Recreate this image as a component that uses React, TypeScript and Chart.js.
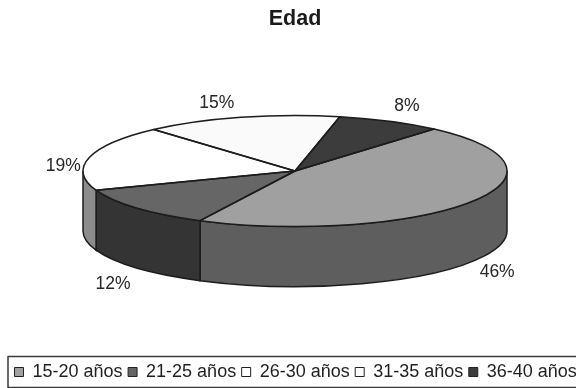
import { useEffect, useRef } from "react";
import { Chart, registerables } from "chart.js";

Chart.register(...registerables);

const ageGroups = ["15-20 años", "21-25 años", "26-30 años", "31-35 años", "36-40 años"];
const shares = [46, 12, 19, 15, 8];
const faceColors = ["#a0a0a0", "#666666", "#ffffff", "#fafafa", "#3c3c3c"];
const wallColors = ["#5e5e5e", "#343434", "#8c8c8c", "#8c8c8c", "#262626"];
const labelNudges = [
  [26, 10],
  [-24, 16],
  [-26, 9],
  [-24, -14],
  [17, -15],
];

const INK = "#1c1c1c";
const CENTER = { x: 295, y: 171 };
const SQUASH = 0.262;
const DEPTH = 60;

// Lays the flat pie down as a tilted disc: walls first, then the squashed
// faces from the library, then outlines, percentage labels and the legend frame.
const tiltedPie = {
  id: "tiltedPie",
  afterLayout(chart: any) {
    chart.titleBlock.left -= 50;
    chart.legend.left += 9;
    chart.legend.top += 4;
  },
  beforeDatasetsDraw(chart: any) {
    const { ctx } = chart;
    const arcs = chart.getDatasetMeta(0).data;
    const rx = arcs[0].outerRadius;
    const ry = rx * SQUASH;
    ctx.save();
    ctx.strokeStyle = INK;
    ctx.lineWidth = 1.5;
    arcs.forEach((arc: any, i: number) => {
      for (let k = -1; k <= 1; k++) {
        const from = Math.max(arc.startAngle, 2 * Math.PI * k);
        const to = Math.min(arc.endAngle, Math.PI + 2 * Math.PI * k);
        if (to <= from) continue;
        ctx.beginPath();
        ctx.ellipse(CENTER.x, CENTER.y, rx, ry, 0, from, to);
        ctx.ellipse(CENTER.x, CENTER.y + DEPTH, rx, ry, 0, to, from, true);
        ctx.closePath();
        ctx.fillStyle = wallColors[i];
        ctx.fill();
        ctx.stroke();
      }
    });
    ctx.restore();

    ctx.save();
    ctx.translate(CENTER.x, CENTER.y);
    ctx.scale(1, SQUASH);
    ctx.translate(-arcs[0].x, -arcs[0].y);
  },
  afterDatasetsDraw(chart: any) {
    const { ctx } = chart;
    ctx.restore();
    const arcs = chart.getDatasetMeta(0).data;
    const rx = arcs[0].outerRadius;
    const ry = rx * SQUASH;

    ctx.save();
    ctx.strokeStyle = INK;
    ctx.lineWidth = 1.5;
    ctx.lineJoin = "round";
    arcs.forEach((arc: any) => {
      ctx.beginPath();
      ctx.moveTo(CENTER.x, CENTER.y);
      ctx.ellipse(CENTER.x, CENTER.y, rx, ry, 0, arc.startAngle, arc.endAngle);
      ctx.closePath();
      ctx.stroke();
    });

    ctx.fillStyle = "#262626";
    ctx.font = "17.5px 'Liberation Sans', Arial, sans-serif";
    ctx.textAlign = "center";
    ctx.textBaseline = "middle";
    arcs.forEach((arc: any, i: number) => {
      const mid = (arc.startAngle + arc.endAngle) / 2;
      const drop = Math.sin(mid) > 0.3 ? DEPTH : 0;
      const x = CENTER.x + Math.cos(mid) * rx + labelNudges[i][0];
      const y = CENTER.y + Math.sin(mid) * ry + drop + labelNudges[i][1];
      ctx.fillText(`${shares[i]}%`, x, y);
    });

    const { legend } = chart;
    ctx.strokeStyle = "#3a3a3a";
    ctx.lineWidth = 1.5;
    ctx.strokeRect(8, legend.top - 1, chart.width + 20, 31);
    ctx.restore();
  },
};

export default function App() {
  const canvasRef = useRef<HTMLCanvasElement>(null);

  useEffect(() => {
    document.body.style.margin = "0";
    const chart = new Chart(canvasRef.current!, {
      type: "pie",
      data: {
        labels: ageGroups,
        datasets: [
          {
            data: shares,
            backgroundColor: faceColors,
            borderWidth: 0,
            radius: 212,
            clip: false,
          } as any,
        ],
      },
      options: {
        responsive: false,
        animation: false,
        events: [],
        rotation: 41,
        layout: { padding: { bottom: 1 } },
        plugins: {
          title: {
            display: true,
            text: "Edad",
            color: "#1a1a1a",
            font: { family: "'Liberation Sans', Arial, sans-serif", size: 21.5, weight: "bold" },
            padding: { top: 6, bottom: 6 },
          },
          legend: {
            position: "bottom",
            align: "start",
            labels: {
              color: "#1f1f1f",
              boxWidth: 9,
              boxHeight: 9,
              padding: 5.5,
              font: { family: "'Liberation Sans', Arial, sans-serif", size: 18 },
              generateLabels(chart: any) {
                const base = (Chart as any).overrides.pie.plugins.legend.labels.generateLabels(chart);
                return base.map((item: any) => ({ ...item, strokeStyle: "#222222", lineWidth: 1 }));
              },
            },
          },
          tooltip: { enabled: false },
        },
      },
      plugins: [tiltedPie],
    });
    return () => chart.destroy();
  }, []);

  // The legend strip runs off the right edge, so the canvas is wider than the visible frame.
  return (
    <div style={{ width: 576, height: 388, overflow: "hidden", background: "#ffffff" }}>
      <canvas ref={canvasRef} width={640} height={388} style={{ display: "block" }} />
    </div>
  );
}
